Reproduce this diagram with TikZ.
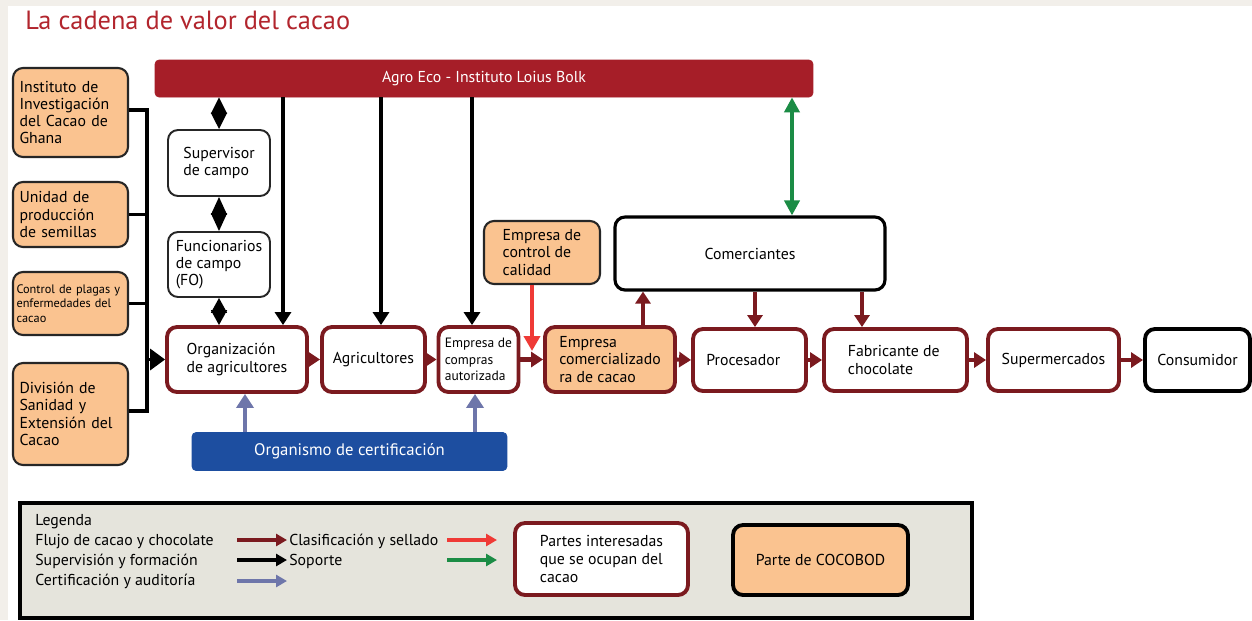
\documentclass[tikz,border=0pt]{standalone}
\usepackage{fontspec}
\setmainfont{PT Sans}
\usetikzlibrary{arrows.meta,calc}
\definecolor{bgout}{HTML}{F2EFEA}
\definecolor{flowred}{HTML}{7B1A1F}
\definecolor{agrored}{HTML}{A61E28}
\definecolor{titlered}{HTML}{B2252D}
\definecolor{peach}{HTML}{FAC390}
\definecolor{certblue}{HTML}{1D4EA0}
\definecolor{bluegray}{HTML}{6E76AA}
\definecolor{supgreen}{HTML}{1B8C45}
\definecolor{qcred}{HTML}{EF3A36}
\definecolor{legbg}{HTML}{E5E4DC}
\tikzset{
  txt/.style={font=\fontsize{9}{9.8}\selectfont},
  smalltxt/.style={font=\fontsize{7.7}{9.4}\selectfont},
  tinytxt/.style={font=\fontsize{7}{8.4}\selectfont},
  boxbase/.style={rounded corners=0.2cm, align=left, inner sep=1pt, txt},
  flowbox/.style={boxbase, draw=flowred, line width=2.2pt, fill=white},
  peachbox/.style={boxbase, draw=black!85, line width=1.2pt, fill=peach},
  leftbox/.style={peachbox, text width=2.04cm, inner xsep=0.13cm, minimum width=2.30cm},
  whitebox/.style={boxbase, draw=black!85, line width=1.1pt, fill=white},
  flowarr/.style={draw=flowred, line width=2.3pt, -{Triangle[width=0.3cm,length=0.24cm]}},
  blkarr/.style={draw=black, line width=2.3pt, -{Triangle[width=0.32cm,length=0.26cm]}},
  certarr/.style={draw=bluegray, line width=2.4pt, -{Triangle[width=0.34cm,length=0.28cm]}},
  qcarr/.style={draw=qcred, line width=2.2pt, -{Triangle[width=0.32cm,length=0.3cm]}},
  suparr/.style={draw=supgreen, line width=2.2pt, {Triangle[width=0.3cm,length=0.3cm]}-{Triangle[width=0.3cm,length=0.3cm]}},
  diaarr/.style={draw=black, line width=1pt, {Triangle[width=0.32cm,length=#1]}-{Triangle[width=0.32cm,length=#1]}},
  bracket/.style={draw=black, line width=2pt},
  legarr/.style={line width=2pt, -{Triangle[width=0.24cm,length=0.22cm]}},
  legtxt/.style={anchor=base west, inner sep=0pt, font=\fontsize{9}{10}\selectfont},
}
\begin{document}
\begin{tikzpicture}[x=0.02cm,y=-0.02cm]
\useasboundingbox (0,0) rectangle (1252,620);
\fill[bgout] (0,0) rectangle (1252,620);
\fill[white] (8,6) rectangle (1252,620);

% title
\node[anchor=base west, inner sep=0pt, text=titlered, font=\fontsize{15}{17}\selectfont] (title) at (25,29) {La cadena de valor del cacao};

% top bar
\node[draw=agrored, fill=agrored, rounded corners=0.08cm, minimum width=13.16cm, minimum height=0.74cm, text=white, txt] (agro) at (484,78.5) {Agro Eco - Instituto Loius Bolk};

% left COCOBOD boxes
\node[leftbox, minimum height=1.78cm] (inst) at (70.5,112.5) {Instituto de\\Investigación\\del Cacao de\\Ghana};
\node[leftbox, minimum height=1.30cm] (unid) at (70.5,214.5) {Unidad de\\producción\\de semillas};
\node[leftbox, tinytxt, inner xsep=0.07cm, text width=2.16cm, minimum height=1.26cm] (ctrl) at (70.5,303.5) {Control de plagas y\\enfermedades del\\cacao};
\node[leftbox, minimum height=2.04cm] (divi) at (70.5,414) {División de\\Sanidad y\\Extensión del\\Cacao};

% supervision column
\node[whitebox, minimum width=2.04cm, minimum height=1.32cm] (sup) at (219,163) {Supervisor\\de campo};
\node[whitebox, minimum width=2.04cm, minimum height=1.30cm] (fun) at (219,264.5) {Funcionarios\\de campo\\(FO)};

% main chain
\node[flowbox, minimum width=2.80cm, minimum height=1.30cm] (org) at (237,359.5) {Organización\\de agricultores};
\node[flowbox, minimum width=2.06cm, minimum height=1.30cm] (agr) at (373.5,359.5) {Agricultores};
\node[flowbox, smalltxt, minimum width=1.60cm, minimum height=1.30cm] (comp) at (478.5,359.5) {Empresa de\\compras\\autorizada};
\node[flowbox, fill=peach, minimum width=2.60cm, minimum height=1.30cm] (comz) at (610,359.5) {Empresa\\comercializado\\ra de cacao};
\node[flowbox, minimum width=2.26cm, minimum height=1.24cm] (proc) at (749.5,360) {Procesador\hspace*{0.25cm}};
\node[flowbox, minimum width=2.86cm, minimum height=1.24cm] (fab) at (895.5,360) {Fabricante de\\chocolate\hspace*{0.6cm}};
\node[flowbox, minimum width=2.62cm, minimum height=1.24cm] (supm) at (1053.5,360) {Supermercados};
\node[boxbase, draw=black, line width=2.2pt, fill=white, minimum width=2.10cm, minimum height=1.24cm] (cons) at (1197.5,360) {Consumidor};

% traders and quality control
\node[boxbase, draw=black, line width=1.8pt, fill=white, minimum width=5.40cm, minimum height=1.46cm] (trad) at (750,253.5) {Comerciantes};
\node[peachbox, minimum width=2.32cm, minimum height=1.26cm] (qc) at (542,252.5) {Empresa de\\control de\\calidad};

% certification
\node[draw=certblue, fill=certblue, rounded corners=0.08cm, minimum width=6.30cm, minimum height=0.76cm, text=white, font=\fontsize{9.5}{11}\selectfont] (cert) at (349.5,451.5) {Organismo de certificación};

% ---- connectors ----
% bracket from left boxes
\coordinate (bt) at (147,110);
\coordinate (bb) at (147,411);
\draw[bracket] (inst.east |- bt) -- (bt) -- (bb) -- (divi.east |- bb);
\draw[bracket] (unid.east) -- (unid.east -| bt);
\draw[bracket] (ctrl.east) -- (ctrl.east -| bt);
\draw[draw=black, line width=2pt, -{Triangle[width=0.42cm,length=0.3cm]}] (org.west -| bt) -- (org.west);

% diamonds
\draw[diaarr=0.33cm] (agro.south -| sup.north) -- (sup.north);
\draw[diaarr=0.36cm] (sup.south) -- (fun.north);
\draw[diaarr=0.30cm] (fun.south) -- (org.north -| fun.south);

% support arrows from Agro Eco
\coordinate (xa) at (283,0);
\coordinate (xb) at (381,0);
\coordinate (xc) at (472,0);
\coordinate (xg) at (792,0);
\draw[blkarr] (agro.south -| xa) -- (org.north -| xa);
\draw[blkarr] (agro.south -| xb) -- (agr.north -| xb);
\draw[blkarr] (agro.south -| xc) -- (comp.north -| xc);
\draw[suparr] (agro.south -| xg) -- (trad.north -| xg);

% flow arrows
\draw[flowarr] (org.east) -- (agr.west);
\draw[flowarr] (agr.east) -- (comp.west);
\draw[flowarr] (comp.east) -- (comz.west);
\draw[flowarr] (comz.east) -- (proc.west);
\draw[flowarr] (proc.east) -- (fab.west);
\draw[flowarr] (fab.east) -- (supm.west);
\draw[flowarr] (supm.east) -- (cons.west);
\coordinate (xu) at (643,0);
\coordinate (xp) at (755,0);
\coordinate (xf) at (862,0);
\draw[flowarr] (comz.north -| xu) -- (trad.south -| xu);
\draw[flowarr] (trad.south -| xp) -- (proc.north -| xp);
\draw[flowarr] (trad.south -| xf) -- (fab.north -| xf);

% quality control arrow
\coordinate (xq) at (532,0);
\coordinate (qend) at (532,351);
\draw[qcarr] (qc.south -| xq) -- (qend);

% certification arrows
\coordinate (xc1) at (245,0);
\coordinate (xc2) at (475,0);
\draw[certarr] (cert.north -| xc1) -- (org.south -| xc1);
\draw[certarr] (cert.north -| xc2) -- (comp.south -| xc2);

% ---- legend ----
\node[draw=black, line width=2.3pt, fill=legbg, minimum width=19.04cm, minimum height=2.30cm, inner sep=0pt] (leg) at (496,560.5) {};
\node[legtxt] (lg0) at (35,525) {Legenda};
\node[legtxt] (lg1) at (35,545) {Flujo de cacao y chocolate};
\node[legtxt] (lg2) at (35,565) {Supervisión y formación};
\node[legtxt] (lg3) at (35,585) {Certificación y auditoría};
\node[legtxt] (lg4) at (289,545) {Clasificación y sellado};
\node[legtxt] (lg5) at (289,565) {Soporte};
\coordinate (la1) at (237,540); \coordinate (lb1) at (287,540);
\coordinate (la2) at (237,560); \coordinate (lb2) at (287,560);
\coordinate (la3) at (237,581); \coordinate (lb3) at (287,581);
\coordinate (la4) at (447,540); \coordinate (lb4) at (497,540);
\coordinate (la5) at (447,560); \coordinate (lb5) at (497,560);
\draw[legarr, draw=flowred] (la1) -- (lb1);
\draw[legarr, draw=black] (la2) -- (lb2);
\draw[legarr, draw=bluegray] (la3) -- (lb3);
\draw[legarr, draw=qcred] (la4) -- (lb4);
\draw[legarr, draw=supgreen] (la5) -- (lb5);
\node[flowbox, minimum width=3.46cm, minimum height=1.44cm, font=\fontsize{9}{10.4}\selectfont] (partes) at (601.5,559) {Partes interesadas\\que se ocupan del\\cacao};
\node[boxbase, draw=black, line width=2.2pt, fill=peach, minimum width=3.50cm, minimum height=1.40cm] (cocobod) at (820.5,560) {Parte de COCOBOD};
\end{tikzpicture}
\end{document}
